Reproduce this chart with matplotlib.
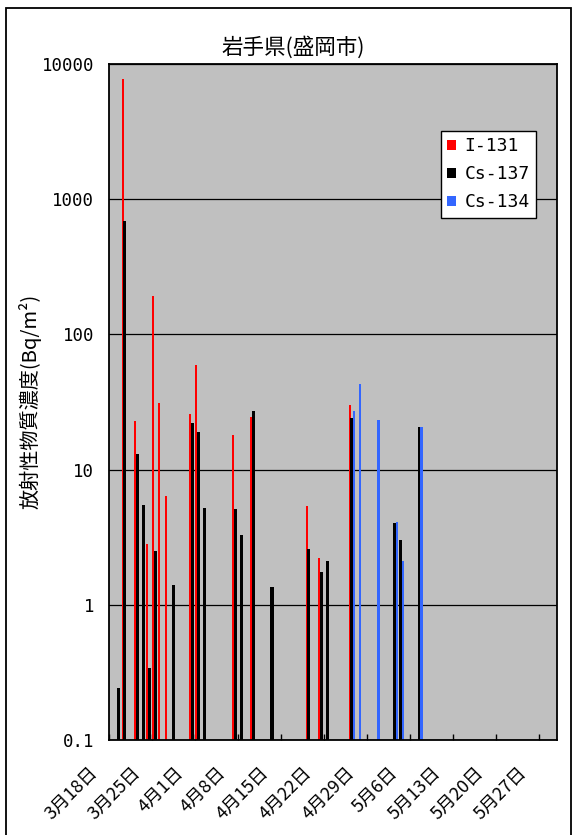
import datetime as dt
import matplotlib
matplotlib.use("Agg")
import matplotlib.pyplot as plt
from matplotlib.patches import Rectangle, Patch
from matplotlib.transforms import ScaledTranslation
from matplotlib.ticker import FixedLocator, NullLocator

plt.rcParams['font.family'] = ['Noto Sans CJK JP', 'DejaVu Sans']

# ---------------- data ----------------
title = "岩手県(盛岡市)"
ylabel = "放射性物質濃度(Bq/m²)"
series_names = ["I-131", "Cs-137", "Cs-134"]

i131_dates = ["3/20", "3/22", "3/24", "3/25", "3/26", "3/27", "3/31", "4/1",
              "4/7", "4/10", "4/19", "4/21", "4/26"]
i131_vals = [7800, 23, 2.8, 193, 31, 6.4, 25.7, 59,
             17.9, 24.3, 5.4, 2.2, 30]

cs137_dates = ["3/19", "3/20", "3/22", "3/23", "3/24", "3/25", "3/28", "3/31",
               "4/1", "4/2", "4/7", "4/8", "4/10", "4/13", "4/19", "4/21",
               "4/22", "4/26", "5/3", "5/4", "5/7"]
cs137_vals = [0.24, 690, 13, 5.5, 0.34, 2.5, 1.4, 22,
              19, 5.2, 5.1, 3.3, 27, 1.36, 2.6, 1.75,
              2.1, 24, 4.0, 3.0, 20.5]

cs134_dates = ["4/26", "4/27", "4/30", "5/3", "5/4", "5/7"]
cs134_vals = [27, 43, 23.4, 4.1, 2.1, 20.5]

tick_labels = ["3月18日", "3月25日", "4月1日", "4月8日", "4月15日", "4月22日",
               "4月29日", "5月6日", "5月13日", "5月20日", "5月27日"]
ytick_vals = [0.1, 1, 10, 100, 1000, 10000]
ytick_text = ["0.1", "1", "10", "100", "1000", "10000"]

start = dt.date(2011, 3, 18)
end = dt.date(2011, 5, 31)


def day_index(s):
    m, d = s.split("/")
    return (dt.date(2011, int(m), int(d)) - start).days


# ---------------- figure ----------------
W, H = 576, 835
fig = plt.figure(figsize=(W / 100, H / 100), dpi=100)
fig.patch.set_facecolor("white")
fig.patches.append(Rectangle((6 / W, -0.01), 565 / W, 1 - 8 / H + 0.01,
                             transform=fig.transFigure, fill=False,
                             edgecolor="black", linewidth=1.3))

ax = fig.add_axes([109.3 / W, 1 - 740 / H, (557 - 109.3) / W, (740 - 64) / H])
ax.set_facecolor("#C0C0C0")
ax.set_yscale("log")

colors = ["#FF0000", "#000000", "#3366FF"]
offsets = [0.17, 0.53, 0.9]
widths = [0.33, 0.5, 0.36]
for dates, vals, c, off, w in zip([i131_dates, cs137_dates, cs134_dates],
                                  [i131_vals, cs137_vals, cs134_vals],
                                  colors, offsets, widths):
    xs = [day_index(s) + off for s in dates]
    ax.bar(xs, vals, width=w, color=c, linewidth=0, bottom=1e-3, zorder=3)

ax.set_ylim(0.1, 10000)
ax.set_xlim(0, (end - start).days - 1)

ax.yaxis.set_major_locator(FixedLocator(ytick_vals))
ax.yaxis.set_minor_locator(NullLocator())
ax.set_yticklabels(ytick_text, family=["DejaVu Sans Mono"])
ax.tick_params(axis="y", length=0, pad=11, labelsize=12.5)
ax.grid(axis="y", color="black", linewidth=0.9, zorder=1)

xt = list(range(0, 7 * len(tick_labels), 7))
ax.set_xticks(xt)
ax.set_xticklabels(tick_labels, rotation=45, ha="right", va="top",
                   rotation_mode="anchor", fontsize=13)
ax.tick_params(axis="x", direction="in", length=4, width=1, pad=0)
off = ScaledTranslation(-21 / 100, -24 / 100, fig.dpi_scale_trans)
for lbl in ax.get_xticklabels():
    lbl.set_transform(lbl.get_transform() + off)

for sp in ax.spines.values():
    sp.set_color("black")
    sp.set_linewidth(1.3)
    sp.set_zorder(5)

fig.text(293 / W, 1 - 47 / H, title, ha="center", va="center", fontsize=15.5)
fig.text(30 / W, 1 - 401 / H, ylabel, ha="center", va="center",
         rotation=90, fontsize=14.5)

handles = [Patch(facecolor=c, edgecolor="none") for c in colors]
leg = ax.legend(handles, series_names, loc="upper left",
                bbox_to_anchor=(441 / W, 1 - 131 / H),
                bbox_transform=fig.transFigure, fancybox=False,
                framealpha=1, edgecolor="black",
                prop={"family": "DejaVu Sans Mono", "size": 13},
                handlelength=0.5, handleheight=0.5, handletextpad=0.45,
                labelspacing=0.55, borderpad=0.35, borderaxespad=0)
leg.get_frame().set_linewidth(1.0)
leg.set_zorder(6)

fig.savefig("out.png", dpi=100)
